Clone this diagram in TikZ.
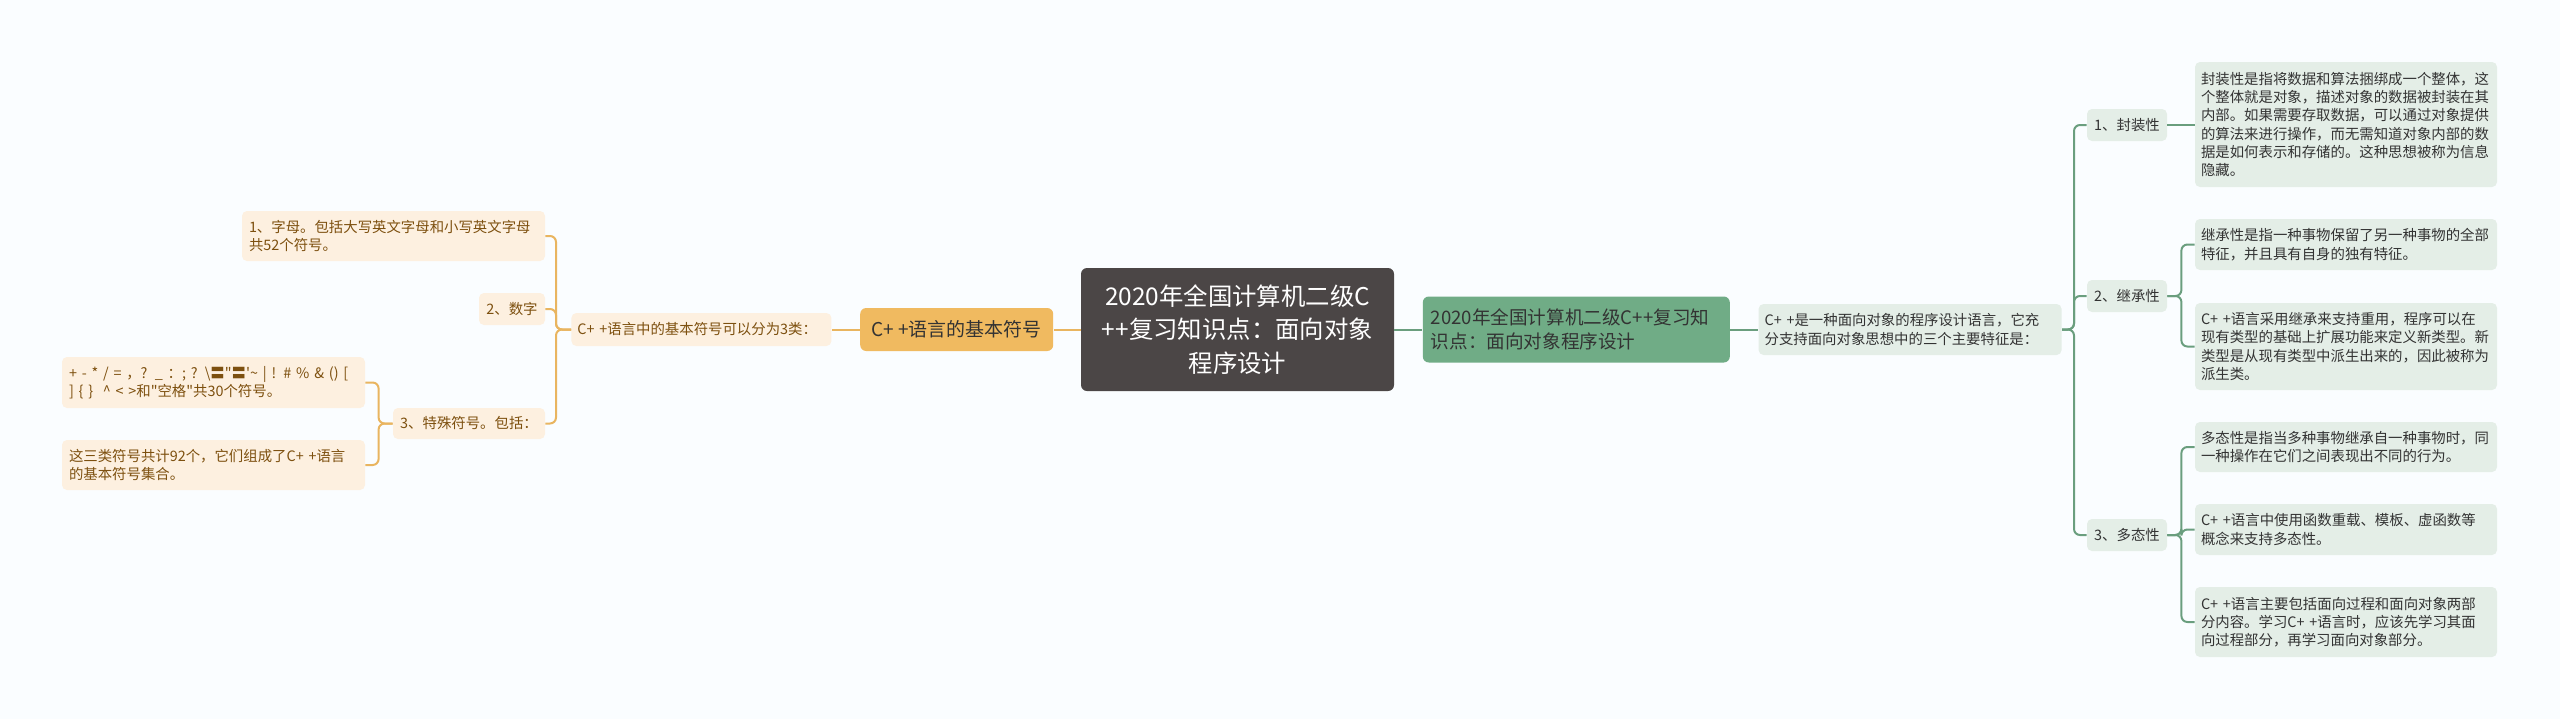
\documentclass[tikz,border=0pt]{standalone}
\usepackage{fontspec}
\setmainfont{Noto Sans CJK SC}[Ligatures=TeXOff]
\usepackage{tikz}
\usetikzlibrary{positioning}
\definecolor{mybg}{RGB}{250,253,255}
\definecolor{mydark}{RGB}{75,70,70}
\definecolor{myorange}{RGB}{240,186,96}
\definecolor{mypeach}{RGB}{253,240,224}
\definecolor{mybrown}{RGB}{125,80,15}
\definecolor{myline}{RGB}{233,181,96}
\definecolor{mygreen}{RGB}{112,172,134}
\definecolor{mymint}{RGB}{228,238,231}
\definecolor{mygreenline}{RGB}{106,158,126}
\definecolor{mytext}{RGB}{51,51,51}

\begin{document}
\begin{tikzpicture}[x=0.5pt, y=-0.5pt,
    root_node/.style={fill=mydark, rounded corners=3pt, text=white, align=center, inner sep=0pt, font=\fontsize{12.2pt}{16.8pt}\selectfont},
    left_main/.style={fill=myorange, rounded corners=3pt, text=mytext, inner sep=0pt, font=\fontsize{9.5pt}{12pt}\selectfont},
    right_main/.style={fill=mygreen, rounded corners=3pt, text=mytext, align=left, inner sep=0pt, font=\fontsize{9.3pt}{11.7pt}\selectfont},
    left_box/.style={fill=mypeach, rounded corners=2.5pt, text=mybrown, inner sep=0pt, font=\fontsize{7.2pt}{9.15pt}\selectfont},
    right_box/.style={fill=mymint, rounded corners=2.5pt, text=mytext, inner sep=0pt, font=\fontsize{7.2pt}{9.15pt}\selectfont},
    left_text/.style={left_box, text width=144.5pt, inner xsep=3.5pt, align=left},
    right_text/.style={right_box, text width=145pt, inner xsep=3pt, align=left},
    left_link/.style={draw=myline, line width=1pt, rounded corners=3pt},
    right_link/.style={draw=mygreenline, line width=1pt, rounded corners=3pt}
]
    % Background and page size
    \fill[mybg] (0,0) rectangle (2560,719);
    \useasboundingbox (0,0) rectangle (2560,719);

    % Root topic
    \node[root_node, minimum width=156.5pt, minimum height=61.5pt] (root) at (1237.5,329.5)
        {2020年全国计算机二级C\\++复习知识点：面向对象\\程序设计};

    % Left branch: basic symbols
    \node[left_main, minimum width=96.5pt, minimum height=21.5pt, left=13.5pt of root] (sym) {C+ +语言的基本符号};
    \node[left_box, text width=124pt, inner xsep=3pt, align=left, minimum height=16.5pt, left=14pt of sym] (symcls)
        {C+ +语言中的基本符号可以分为3类：};

    \node[left_text, minimum height=25pt] (letters) at (393.5,236)
        {1、字母。包括大写英文字母和小写英文字母\\共52个符号。};
    \node[left_box, minimum width=33pt, minimum height=16pt] (digits) at (512,309) {2、数字};
    \node[left_box, minimum width=76pt, minimum height=15.5pt] (special) at (469,423.5) {3、特殊符号。包括：};

    \node[left_text, minimum height=25.5pt] (specsym) at (213.5,382.5)
        {\mbox{+ - * / = ，? \_ ：; ? \textbackslash〓"〓'\textasciitilde{} | ! \# \% \& () [}\\] \{ \}\ \ \textasciicircum{} < >和"空格"共30个符号。};
    \node[left_text, minimum height=25pt] (total92) at (213.5,465)
        {这三类符号共计92个，它们组成了C+ +语言\\的基本符号集合。};

    % Right branch: object oriented features
    \node[right_main, text width=145.5pt, inner xsep=4pt, minimum height=33pt, right=14pt of root] (oop)
        {2020年全国计算机二级C++复习知\\识点：面向对象程序设计};
    \node[right_text, text width=145.5pt, minimum height=25.5pt, right=14pt of oop] (feat)
        {C+ +是一种面向对象的程序设计语言，它充\\分支持面向对象思想中的三个主要特征是：};

    \node[right_box, minimum width=40pt, minimum height=16pt] (f1) at (2127,125) {1、封装性};
    \node[right_box, minimum width=40pt, minimum height=16pt] (f2) at (2127,296) {2、继承性};
    \node[right_box, minimum width=40pt, minimum height=16pt] (f3) at (2127,535) {3、多态性};

    \node[right_text, minimum height=62.5pt] (d1) at (2346,124.5)
        {封装性是指将数据和算法捆绑成一个整体，这\\个整体就是对象，描述对象的数据被封装在其\\内部。如果需要存取数据，可以通过对象提供\\的算法来进行操作，而无需知道对象内部的数\\据是如何表示和存储的。这种思想被称为信息\\隐藏。};
    \node[right_text, minimum height=25.5pt] (d2a) at (2346,244.5)
        {继承性是指一种事物保留了另一种事物的全部\\特征，并且具有自身的独有特征。};
    \node[right_text, minimum height=43.5pt] (d2b) at (2346,346.5)
        {C+ +语言采用继承来支持重用，程序可以在\\现有类型的基础上扩展功能来定义新类型。新\\类型是从现有类型中派生出来的，因此被称为\\派生类。};
    \node[right_text, minimum height=25pt] (d3a) at (2346,447)
        {多态性是指当多种事物继承自一种事物时，同\\一种操作在它们之间表现出不同的行为。};
    \node[right_text, minimum height=25.5pt] (d3b) at (2346,529.5)
        {C+ +语言中使用函数重载、模板、虚函数等\\概念来支持多态性。};
    \node[right_text, minimum height=35pt] (d3c) at (2346,622)
        {C+ +语言主要包括面向过程和面向对象两部\\分内容。学习C+ +语言时，应该先学习其面\\向过程部分，再学习面向对象部分。};

    % Left connectors
    \draw[left_link] (root.west) -- (sym.east);
    \draw[left_link] (sym.west) -- (symcls.east);
    \foreach \n in {letters, digits, special}
        \draw[left_link] (symcls.west) -- ++(-15,0) |- (\n.east);
    \foreach \n in {specsym, total92}
        \draw[left_link] (special.west) -- ++(-14,0) |- (\n.east);

    % Right connectors
    \draw[right_link] (root.east) -- (oop.west);
    \draw[right_link] (oop.east) -- (feat.west);
    \foreach \n in {f1, f2, f3}
        \draw[right_link] (feat.east) -- ++(12,0) |- (\n.west);
    \draw[right_link] (f1.east) -- (f1.east -| d1.west);
    \foreach \n in {d2a, d2b}
        \draw[right_link] (f2.east) -- ++(14,0) |- (\n.west);
    \foreach \n in {d3a, d3b, d3c}
        \draw[right_link] (f3.east) -- ++(14,0) |- (\n.west);

\end{tikzpicture}
\end{document}
